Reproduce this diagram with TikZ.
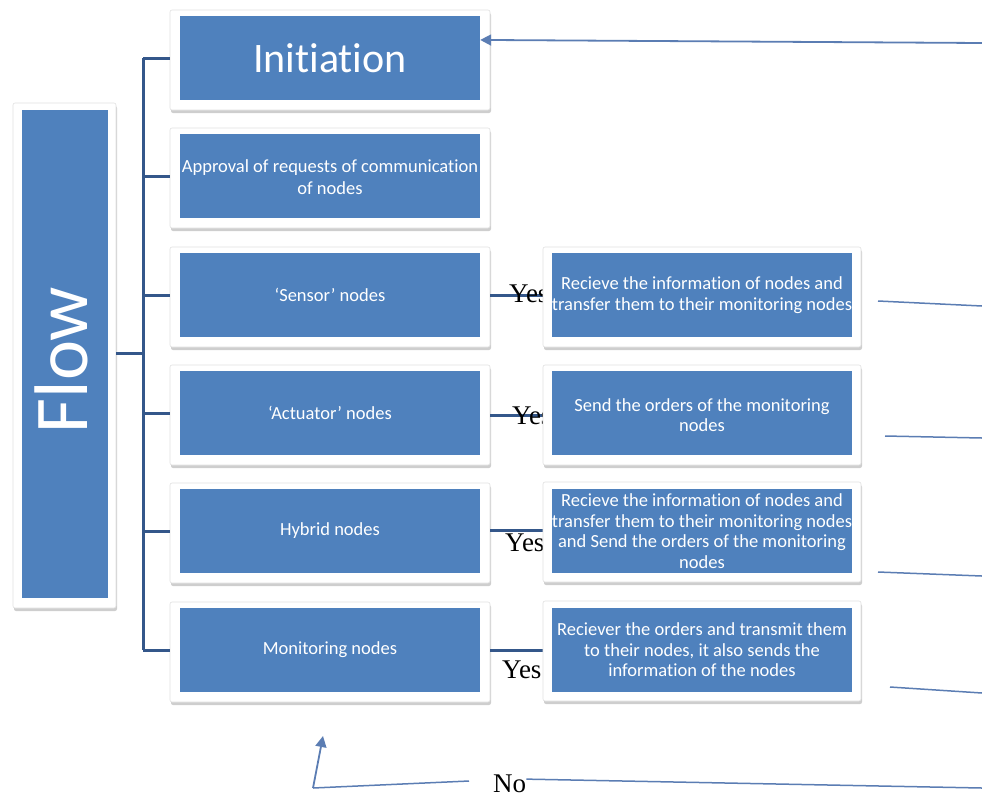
\documentclass[tikz,border=0pt]{standalone}
\usepackage{fontspec}
\setmainfont{Carlito}[Ligatures=NoCommon]
\newfontfamily\tnr{Liberation Serif}
\usetikzlibrary{shadows,arrows.meta,calc}
\definecolor{boxblue}{HTML}{4F81BD}
\definecolor{brkcol}{HTML}{34578A}
\definecolor{thincol}{HTML}{5B7DB3}
\begin{document}
\begin{tikzpicture}[x=1pt,y=-1pt,
  frame/.style={draw=black!12, fill=white, rounded corners=2pt, line width=0.6pt, inner sep=0pt,
    drop shadow={shadow xshift=1pt, shadow yshift=-3pt, opacity=0.35, fill=black!55}},
  lframe/.style={frame, minimum width=320pt, minimum height=100pt},
  rframe/.style={frame, minimum width=318pt, minimum height=100pt},
  bluebox/.style={fill=boxblue, inner sep=0pt, minimum width=300pt, minimum height=84pt},
  txt/.style={text=white, inner sep=0pt, align=center},
  smalltxt/.style={txt, font=\fontsize{18.5}{21.5}\selectfont},
  righttxt/.style={txt, font=\fontsize{18.5}{20.5}\selectfont},
  brk/.style={draw=brkcol, line width=3pt},
  thin/.style={draw=thincol, line width=1.5pt},
  yes/.style={font=\tnr\fontsize{27}{27}\selectfont, inner sep=0pt, anchor=base west, text=black},
  arr/.style={draw=thincol, line width=1.8pt, -{Triangle[length=11pt,width=11pt]}}]
\useasboundingbox (0,0) rectangle (982,796);

\coordinate (lsens) at (480,295);
\coordinate (lact) at (480,415);
\coordinate (lhyb) at (480,530);
\coordinate (lmon) at (480,650);

% Flow
\node[frame, minimum width=103pt, minimum height=505pt] (fFlow) at (64.5,355.5) {};
\node[bluebox, minimum width=86pt, minimum height=488pt] (flow) at (65,354) {};
\node[txt, rotate=90, font=\fontsize{76}{76}\selectfont] (flowtxt) at (61,360) {Flow};

% left column frames
\node[lframe] (fInit) at (330,60) {};
\node[lframe] (fAppr) at (330,178) {};
\node[lframe] (fSens) at (330,297) {};
\node[lframe] (fAct)  at (330,415) {};
\node[lframe] (fHyb)  at (330,533) {};
\node[lframe] (fMon)  at (330,652) {};

% links to right boxes
\draw[brk] (fSens.east |- lsens) -- (552,295);
\draw[brk] (fAct.east |- lact) -- (552,415);
\draw[brk] (fHyb.east |- lhyb) -- (552,530);
\draw[brk] (fMon.east |- lmon) -- (552,650);

% left column boxes
\node[bluebox] (init) at (330,58) {};
\node[bluebox] (appr) at (330,176) {};
\node[bluebox] (sens) at (330,295) {};
\node[bluebox] (act)  at (330,413) {};
\node[bluebox] (hyb)  at (330,531) {};
\node[bluebox] (mon)  at (330,650) {};
\node[txt, font=\fontsize{42}{42}\selectfont] (initT) at (init) {Initiation};
\begin{scope}
\clip (appr.south west) rectangle (appr.north east);
\node[smalltxt] (apprT) at ([yshift=-1pt]appr.center) {Approval of requests of communication\\of nodes};
\end{scope}
\node[smalltxt] (sensT) at (sens) {‘Sensor’ nodes};
\node[smalltxt] (actT)  at (act)  {‘Actuator’ nodes};
\node[smalltxt] (hybT)  at (hyb)  {Hybrid nodes};
\node[smalltxt] (monT)  at (mon)  {Monitoring nodes};

% bracket
\coordinate (bx) at (143,0);
\draw[brk] (fFlow.east |- 0,353) -- (bx |- 0,353);
\draw[brk, line cap=butt] (init.west -| bx) -- (mon.west -| bx);
\foreach \n in {init,appr,sens,act,hyb,mon}
  \draw[brk] (\n.west -| bx) -- (\n.west -| fInit.west);

% Yes labels
\node[yes] (yes1) at (509,302) {Yes};
\node[yes] (yes2) at (512,424) {Yes};
\node[yes] (yes3) at (505,551) {Yes};
\node[yes] (yes4) at (502,678) {Yes};

% right column
\node[rframe] (frSens) at (702,297) {};
\node[rframe] (frAct)  at (702,415) {};
\node[rframe] (frHyb)  at (702,532) {};
\node[rframe] (frMon)  at (702,651) {};
\node[bluebox] (rsens) at (702,295) {};
\node[bluebox] (ract)  at (702,413) {};
\node[bluebox] (rhyb)  at (702,531) {};
\node[bluebox] (rmon)  at (702,650) {};
\begin{scope}
\clip (rsens.south west) rectangle (rsens.north east);
\node[righttxt] (rsensT) at (rsens) {Recieve the information of nodes and\\transfer them to their monitoring nodes};
\end{scope}
\node[righttxt] (ractT) at ([yshift=-2pt]ract.center) {Send the orders of the monitoring\\nodes};
\begin{scope}
\clip (rhyb.south west) rectangle (rhyb.north east);
\node[righttxt] (rhybT) at (rhyb) {Recieve the information of nodes and\\transfer them to their monitoring nodes\\and Send the orders of the monitoring\\nodes};
\end{scope}
\begin{scope}
\clip (rmon.south west) rectangle (rmon.north east);
\node[righttxt] (rmonT) at (rmon) {Reciever the orders and transmit them\\to their nodes, it also sends the\\information of the nodes};
\end{scope}

% thin lines at the right
\coordinate (a1) at (878,301); \coordinate (a2) at (982,306);
\coordinate (b1) at (885,436); \coordinate (b2) at (982,438);
\coordinate (c1) at (878,572); \coordinate (c2) at (982,576);
\coordinate (d1) at (890,687); \coordinate (d2) at (982,693);
\draw[thin] (a1) -- (a2);
\draw[thin] (b1) -- (b2);
\draw[thin] (c1) -- (c2);
\draw[thin] (d1) -- (d2);

% top arrow back to Initiation
\coordinate (topR) at (982,43);
\draw[arr] (topR) -- ($(init.north east)!0.286!(init.south east)$);

% bottom No loop
\node[font=\tnr\fontsize{27}{27}\selectfont, inner sep=0pt, anchor=base west] (no) at (493,792) {No};
\coordinate (noR) at (982,788);
\coordinate (noL) at (469,781);
\coordinate (corner) at (313,788);
\coordinate (tip) at (323,736);
\draw[thin] ([yshift=-5pt]no.north east) -- (noR);
\draw[thin] (noL) -- (corner);
\draw[arr] (corner) -- (tip);
\end{tikzpicture}
\end{document}
